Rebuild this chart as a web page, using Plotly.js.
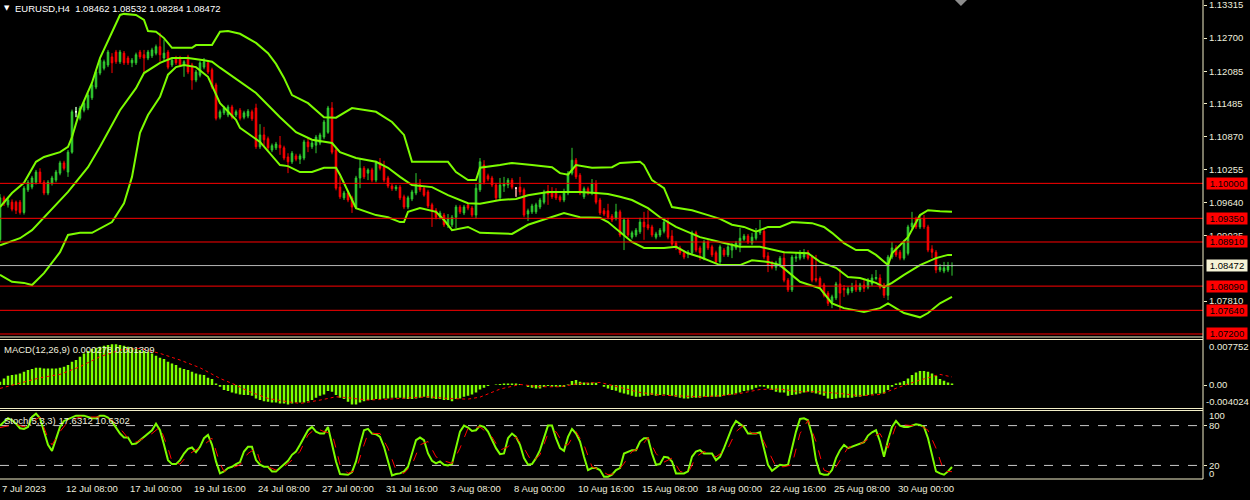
<!DOCTYPE html>
<html>
<head>
<meta charset="utf-8">
<script src="https://cdn.plot.ly/plotly-3.0.1.min.js"></script>
<style>
  html, body { margin: 0; padding: 0; background: #000; }
  #chart { width: 1250px; height: 500px; }
</style>
</head>
<body>
<div id="chart"></div>
<script>
// EURUSD H4, bar 0 = 7 Jul 2023 16:00 ... bar 238 = 1 Sep 2023 08:00
let open = [
  1.0895,1.0973,1.0960,1.0965,1.0965,1.0965,1.0946,1.0988,1.0993,1.1002,
  1.1021,1.1002,1.0982,1.1000,1.1006,1.1019,1.1038,1.1021,1.1058,1.1133,
  1.1121,1.1136,1.1140,1.1159,1.1179,1.1205,1.1214,1.1220,1.1235,1.1244,
  1.1226,1.1242,1.1233,1.1224,1.1224,1.1244,1.1239,1.1233,1.1237,1.1242,
  1.1254,1.1233,1.1244,1.1220,1.1233,1.1233,1.1220,1.1235,1.1220,1.1192,
  1.1201,1.1216,1.1224,1.1211,1.1183,1.1123,1.1131,1.1127,1.1142,1.1127,
  1.1136,1.1123,1.1125,1.1133,1.1140,1.1068,1.1090,1.1083,1.1062,1.1066,
  1.1071,1.1066,1.1049,1.1040,1.1051,1.1045,1.1047,1.1077,1.1068,1.1071,
  1.1075,1.1086,1.1095,1.1140,1.1062,1.0993,1.0973,1.0982,1.0973,1.0956,
  1.1010,1.1028,1.1019,1.1025,1.1006,1.1038,1.1030,1.1010,1.0995,1.0990,
  1.0993,1.0975,1.0956,1.0971,1.0982,1.0997,1.0991,1.0984,1.0960,1.0950,
  1.0937,1.0941,1.0923,1.0923,1.0937,1.0956,1.0945,1.0960,1.0954,1.0941,
  1.0988,1.1034,1.1014,1.1010,1.0997,1.0973,1.0995,1.0997,1.1006,1.0991,
  1.0993,1.0988,1.0943,1.0947,1.0947,1.0956,1.0965,1.0986,1.0984,1.0982,
  1.0975,1.0969,1.0982,1.1019,1.1043,1.1015,1.0975,1.0990,1.0982,1.0999,
  1.0969,1.0949,1.0949,1.0939,1.0935,1.0947,1.0904,1.0932,1.0900,1.0904,
  1.0910,1.0928,1.0923,1.0919,1.0900,1.0904,1.0911,1.0928,1.0902,1.0889,
  1.0880,1.0871,1.0869,1.0871,1.0908,1.0880,1.0861,1.0891,1.0882,1.0871,
  1.0854,1.0876,1.0867,1.0876,1.0880,1.0885,1.0896,1.0902,1.0889,1.0898,
  1.0908,1.0911,1.0865,1.0852,1.0844,1.0848,1.0861,1.0820,1.0802,1.0861,
  1.0861,1.0863,1.0872,1.0863,1.0823,1.0823,1.0811,1.0796,1.0779,1.0787,
  1.0813,1.0805,1.0796,1.0800,1.0811,1.0802,1.0811,1.0807,1.0813,1.0823,
  1.0824,1.0811,1.0792,1.0863,1.0880,1.0872,1.0861,1.0870,1.0919,1.0934,
  1.0919,1.0934,1.0919,1.0878,1.0872,1.0839,1.0837,1.0839,1.08462
];
let high = [
  1.0980,1.0977,1.0975,1.0970,1.0968,1.0969,1.0995,1.1006,1.1014,1.1025,
  1.1028,1.1006,1.1006,1.1014,1.1025,1.1042,1.1042,1.1062,1.1137,1.1142,
  1.1144,1.1153,1.1168,1.1187,1.1211,1.1233,1.1230,1.1248,1.1242,1.1248,
  1.1248,1.1246,1.1237,1.1233,1.1243,1.1248,1.1248,1.1248,1.1252,1.1258,
  1.1280,1.1267,1.1248,1.1233,1.1237,1.1237,1.1229,1.1239,1.1224,1.1211,
  1.1228,1.1233,1.1228,1.1215,1.1187,1.1137,1.1144,1.1146,1.1146,1.1137,
  1.1140,1.1135,1.1138,1.1137,1.1148,1.1110,1.1105,1.1087,1.1074,1.1077,
  1.1088,1.1070,1.1056,1.1060,1.1055,1.1055,1.1081,1.1084,1.1079,1.1090,
  1.1094,1.1118,1.1144,1.1151,1.1066,1.1012,1.0986,1.0986,1.0977,1.1014,
  1.1047,1.1032,1.1028,1.1029,1.1042,1.1047,1.1042,1.1014,1.0999,1.0997,
  1.0997,1.0979,1.0977,1.0988,1.1019,1.1008,1.0995,1.0988,1.0964,1.0954,
  1.0949,1.0945,1.0943,1.0941,1.0960,1.0960,1.0960,1.0964,1.0958,1.0999,
  1.1047,1.1043,1.1018,1.1014,1.1001,1.1010,1.1012,1.1010,1.1010,1.0993,
  1.1012,1.0992,1.0953,1.0962,1.0964,1.0973,1.0988,1.0997,1.0993,1.0991,
  1.0979,1.0990,1.1023,1.1066,1.1047,1.1019,1.0994,1.0994,1.1008,1.1006,
  1.0973,1.0954,1.0962,1.0943,1.0962,1.0951,1.0936,1.0936,1.0912,1.0917,
  1.0936,1.0947,1.0950,1.0923,1.0910,1.0917,1.0936,1.0936,1.0913,1.0893,
  1.0884,1.0875,1.0876,1.0912,1.0912,1.0884,1.0895,1.0895,1.0886,1.0875,
  1.0886,1.0880,1.0886,1.0889,1.0893,1.0917,1.0906,1.0906,1.0908,1.0917,
  1.0932,1.0915,1.0872,1.0856,1.0856,1.0865,1.0874,1.0824,1.0867,1.0872,
  1.0876,1.0878,1.0876,1.0867,1.0867,1.0827,1.0815,1.0800,1.0793,1.0817,
  1.0842,1.0811,1.0808,1.0815,1.0820,1.0815,1.0820,1.0824,1.0831,1.0839,
  1.0831,1.0815,1.0867,1.0891,1.0885,1.0876,1.0895,1.0923,1.0947,1.0938,
  1.0941,1.0941,1.0923,1.0885,1.0876,1.0850,1.0854,1.0854,1.08532
];
let low = [
  1.0890,1.0958,1.0955,1.0948,1.0943,1.0942,1.0942,1.0984,1.0989,1.0998,
  1.1000,1.0978,1.0978,1.0996,1.1002,1.1015,1.1024,1.1012,1.1055,1.1123,
  1.1117,1.1132,1.1136,1.1155,1.1175,1.1201,1.1210,1.1216,1.1205,1.1222,
  1.1222,1.1220,1.1220,1.1216,1.1220,1.1231,1.1205,1.1229,1.1233,1.1238,
  1.1226,1.1226,1.1212,1.1216,1.1220,1.1216,1.1198,1.1203,1.1174,1.1188,
  1.1197,1.1212,1.1203,1.1175,1.1117,1.1119,1.1127,1.1123,1.1119,1.1123,
  1.1117,1.1119,1.1121,1.1116,1.1064,1.1064,1.1068,1.1062,1.1058,1.1062,
  1.1053,1.1043,1.1019,1.1036,1.1041,1.1036,1.1043,1.1058,1.1064,1.1056,
  1.1071,1.1082,1.1092,1.1054,1.0987,1.0971,1.0969,1.0965,1.0945,1.0952,
  1.0991,1.1008,1.1006,1.1002,1.1002,1.1024,1.1002,1.0991,1.0986,1.0986,
  1.0969,1.0952,1.0952,1.0967,1.0978,1.0984,1.0975,1.0954,1.0919,1.0933,
  1.0933,1.0919,1.0917,1.0919,1.0917,1.0943,1.0941,1.0950,1.0937,1.0935,
  1.0984,1.0998,1.1004,1.0993,1.0969,1.0967,1.0984,1.0991,1.0989,1.0975,
  1.0978,1.0937,1.0930,1.0943,1.0943,1.0952,1.0961,1.0960,1.0971,1.0969,
  1.0965,1.0965,1.0978,1.1015,1.1008,1.0978,1.0971,1.0978,1.0978,1.0961,
  1.0941,1.0939,1.0933,1.0928,1.0931,1.0900,1.0876,1.0900,1.0896,1.0900,
  1.0906,1.0895,1.0913,1.0900,1.0896,1.0900,1.0907,1.0896,1.0883,1.0876,
  1.0867,1.0859,1.0861,1.0867,1.0872,1.0857,1.0857,1.0876,1.0863,1.0850,
  1.0850,1.0863,1.0863,1.0861,1.0876,1.0872,1.0893,1.0887,1.0885,1.0894,
  1.0904,1.0859,1.0835,1.0840,1.0838,1.0844,1.0816,1.0798,1.0798,1.0854,
  1.0857,1.0859,1.0857,1.0816,1.0816,1.0803,1.0788,1.0772,1.0768,1.0783,
  1.0764,1.0789,1.0792,1.0796,1.0798,1.0798,1.0798,1.0803,1.0809,1.0820,
  1.0803,1.0787,1.0783,1.0859,1.0863,1.0857,1.0857,1.0866,1.0915,1.0915,
  1.0915,1.0915,1.0872,1.0861,1.0833,1.0835,1.0833,1.0835,1.08284
];
let close = [
  1.0973,1.0963,1.0969,1.0952,1.0950,1.0946,1.0991,1.1002,1.1010,1.1021,
  1.1002,1.0982,1.1002,1.1010,1.1021,1.1038,1.1028,1.1058,1.1133,1.1133,
  1.1140,1.1149,1.1164,1.1183,1.1207,1.1229,1.1226,1.1244,1.1224,1.1226,
  1.1244,1.1224,1.1224,1.1229,1.1239,1.1235,1.1233,1.1244,1.1248,1.1254,
  1.1239,1.1242,1.1216,1.1229,1.1224,1.1220,1.1226,1.1207,1.1192,1.1207,
  1.1224,1.1226,1.1207,1.1179,1.1121,1.1133,1.1140,1.1142,1.1123,1.1133,
  1.1121,1.1131,1.1134,1.1120,1.1068,1.1090,1.1081,1.1066,1.1070,1.1073,
  1.1066,1.1047,1.1040,1.1056,1.1045,1.1051,1.1077,1.1068,1.1075,1.1086,
  1.1090,1.1114,1.1140,1.1058,1.0991,1.0975,1.0982,1.0969,1.0956,1.1010,
  1.1028,1.1012,1.1025,1.1006,1.1038,1.1028,1.1006,1.0995,1.0990,1.0993,
  1.0973,1.0956,1.0973,1.0984,1.0997,1.0988,1.0978,1.0958,1.0949,1.0937,
  1.0945,1.0923,1.0934,1.0937,1.0956,1.0947,1.0956,1.0954,1.0941,1.0991,
  1.1040,1.1002,1.1008,1.0997,1.0973,1.0997,1.0999,1.1006,1.0993,1.0991,
  1.0984,1.0941,1.0949,1.0958,1.0960,1.0969,1.0984,1.0980,1.0975,1.0973,
  1.0969,1.0982,1.1019,1.1043,1.1012,1.0982,1.0990,1.0982,1.0999,1.0965,
  1.0945,1.0943,1.0937,1.0932,1.0947,1.0904,1.0932,1.0904,1.0908,1.0913,
  1.0928,1.0919,1.0917,1.0904,1.0906,1.0913,1.0928,1.0900,1.0887,1.0880,
  1.0871,1.0863,1.0872,1.0908,1.0876,1.0871,1.0891,1.0880,1.0867,1.0854,
  1.0882,1.0867,1.0882,1.0885,1.0889,1.0898,1.0902,1.0891,1.0900,1.0908,
  1.0911,1.0863,1.0848,1.0844,1.0852,1.0861,1.0820,1.0802,1.0863,1.0863,
  1.0871,1.0871,1.0861,1.0820,1.0820,1.0807,1.0792,1.0777,1.0789,1.0813,
  1.0796,1.0802,1.0804,1.0807,1.0802,1.0811,1.0805,1.0820,1.0824,1.0825,
  1.0807,1.0792,1.0863,1.0880,1.0867,1.0861,1.0889,1.0919,1.0926,1.0919,
  1.0934,1.0919,1.0876,1.0872,1.0839,1.0844,1.0843,1.0846,1.08472
];

// Bollinger bands (bar index, price)
let bbUpperX = [0,3,6,9,11,15,17,18,20,23,25,28,30,31,34,36,37,39,41,43,48,49,53,55,57,60,64,67,69,71,
  73,77,81,84,88,94,98,101,103,108,112,114,117,119,120,125,128,133,138,140,142,144,148,153,155,160,161,163,166,168,
  173,177,180,183,186,189,192,195,198,203,206,208,211,214,217,219,222,223,227,230,232,235,238];
let bbUpper = [1.0956,1.0982,1.1001,1.1040,1.1049,1.1058,1.1068,1.1086,1.1136,1.1187,1.1233,1.1280,1.1313,1.1315,1.1313,
  1.1304,1.1283,1.1282,1.1270,1.1252,1.1252,1.1257,1.1257,1.1282,1.1283,1.1278,1.1261,1.1242,1.1222,1.1196,
  1.1164,1.1149,1.1123,1.1122,1.1140,1.1133,1.1114,1.1090,1.1040,1.1040,1.1040,1.1021,1.1006,1.1006,1.1029,
  1.1034,1.1038,1.1034,1.1030,1.1019,1.1016,1.1034,1.1029,1.1030,1.1038,1.1040,1.1034,1.1006,1.0991,1.0956,
  1.0950,1.0941,1.0934,1.0923,1.0919,1.0910,1.0919,1.0919,1.0928,1.0926,1.0919,1.0908,1.0889,1.0876,1.0876,
  1.0867,1.0848,1.0870,1.0900,1.0941,1.0950,1.0948,1.0947];
let bbMidX = [0,5,8,12,17,22,25,30,34,36,40,43,47,51,53,55,60,64,70,74,78,83,85,89,94,97,100,103,108,112,
  117,120,125,129,132,137,142,145,149,152,155,158,162,165,169,172,175,180,185,190,196,202,205,209,212,215,219,221,223,226,
  230,234,237,238];
let bbMid = [1.0885,1.0898,1.0913,1.0945,1.0984,1.1030,1.1068,1.1136,1.1177,1.1205,1.1224,1.1233,1.1233,1.1229,1.1226,
  1.1215,1.1189,1.1168,1.1123,1.1095,1.1081,1.1075,1.1058,1.1047,1.1040,1.1029,1.1012,1.0997,1.0993,1.0978,
  1.0963,1.0962,1.0969,1.0971,1.0978,1.0984,1.0984,1.0984,1.0982,1.0980,1.0975,1.0969,1.0954,1.0937,1.0919,
  1.0910,1.0900,1.0891,1.0882,1.0882,1.0872,1.0870,1.0854,1.0843,1.0826,1.0824,1.0815,1.0807,1.0815,1.0830,
  1.0848,1.0861,1.0867,1.0867];
let bbLowerX = [0,3,6,8,11,15,17,20,23,28,31,33,35,37,40,42,44,46,49,52,55,59,60,65,70,72,75,78,81,84,
  85,89,94,97,100,101,102,105,109,111,113,117,120,128,132,138,141,145,150,152,155,158,161,166,169,172,175,180,185,188,
  192,195,200,205,208,211,216,220,222,224,226,230,232,235,238];
let bbLower = [1.0830,1.0817,1.0815,1.0811,1.0833,1.0872,1.0904,1.0908,1.0908,1.0928,1.0963,1.1012,1.1094,1.1127,1.1161,
  1.1202,1.1216,1.1220,1.1216,1.1198,1.1149,1.1118,1.1103,1.1077,1.1034,1.1032,1.1021,1.1021,1.1029,1.1029,
  1.1016,1.0954,1.0941,1.0937,1.0928,1.0928,1.0947,1.0954,1.0947,1.0932,1.0913,1.0919,1.0908,1.0906,1.0923,
  1.0937,1.0945,1.0937,1.0936,1.0928,1.0910,1.0891,1.0880,1.0880,1.0882,1.0870,1.0863,1.0848,1.0848,1.0857,
  1.0854,1.0848,1.0817,1.0805,1.0777,1.0768,1.0761,1.0768,1.0777,1.0768,1.0759,1.0751,1.0759,1.0777,1.0789];

// MACD(12,26,9): main line per bar (histogram) and signal read at sample bars
let macdMain = [
  0.00057,0.00115,0.00161,0.00172,0.00184,0.00201,0.00230,0.00258,0.00276,0.00298,
  0.00298,0.00287,0.00287,0.00287,0.00287,0.00298,0.00316,0.00344,0.00402,0.00431,
  0.00488,0.00545,0.00585,0.00620,0.00643,0.00660,0.00677,0.00689,0.00700,0.00700,
  0.00689,0.00677,0.00660,0.00643,0.00620,0.00603,0.00585,0.00574,0.00545,0.00505,
  0.00471,0.00448,0.00402,0.00373,0.00344,0.00298,0.00276,0.00258,0.00230,0.00201,
  0.00184,0.00172,0.00126,0.00103,0.00029,-0.00029,-0.00086,-0.00103,-0.00126,-0.00144,
  -0.00161,-0.00172,-0.00172,-0.00184,-0.00230,-0.00258,-0.00276,-0.00287,-0.00298,-0.00298,
  -0.00316,-0.00316,-0.00333,-0.00316,-0.00298,-0.00298,-0.00298,-0.00276,-0.00258,-0.00218,
  -0.00184,-0.00161,-0.00103,-0.00115,-0.00172,-0.00218,-0.00241,-0.00287,-0.00333,-0.00333,
  -0.00298,-0.00276,-0.00258,-0.00258,-0.00241,-0.00241,-0.00230,-0.00230,-0.00218,-0.00218,
  -0.00218,-0.00230,-0.00241,-0.00241,-0.00230,-0.00218,-0.00201,-0.00218,-0.00230,-0.00241,
  -0.00241,-0.00258,-0.00258,-0.00276,-0.00241,-0.00230,-0.00201,-0.00184,-0.00161,-0.00126,
  -0.00075,-0.00046,-0.00017,0,0.00011,0.00017,0.00029,0.00029,0.00029,0.00029,
  0.00017,0,-0.00034,-0.00046,-0.00057,-0.00057,-0.00034,-0.00017,-0.00029,-0.00029,
  -0.00029,-0.00034,0.00011,0.00069,0.00086,0.00057,0.00046,0.00040,0.00046,0.00040,
  0,-0.00029,-0.00057,-0.00086,-0.00098,-0.00126,-0.00144,-0.00161,-0.00184,-0.00201,
  -0.00201,-0.00184,-0.00184,-0.00172,-0.00184,-0.00172,-0.00161,-0.00172,-0.00184,-0.00201,
  -0.00218,-0.00230,-0.00230,-0.00218,-0.00218,-0.00218,-0.00201,-0.00201,-0.00201,-0.00201,
  -0.00201,-0.00184,-0.00172,-0.00161,-0.00144,-0.00126,-0.00103,-0.00092,-0.00075,-0.00046,
  -0.00023,-0.00029,-0.00057,-0.00086,-0.00115,-0.00126,-0.00126,-0.00184,-0.00172,-0.00161,
  -0.00144,-0.00126,-0.00115,-0.00126,-0.00144,-0.00161,-0.00184,-0.00230,-0.00241,-0.00230,
  -0.00218,-0.00218,-0.00218,-0.00218,-0.00201,-0.00201,-0.00184,-0.00172,-0.00161,-0.00144,
  -0.00144,-0.00144,-0.00086,-0.00029,0.00029,0.00046,0.00069,0.00115,0.00172,0.00218,
  0.00241,0.00241,0.00230,0.00201,0.00161,0.00103,0.00075,0.00046,0.000278
];
let macdSignalX = [0,5,10,15,20,25,30,35,40,45,50,55,59,62,67,72,75,80,84,87,92,97,102,107,112,117,
  120,125,130,135,140,145,150,155,160,165,170,175,180,185,190,195,200,205,210,215,220,225,230,235,238];
let macdSignal = [-0.00057,0.00029,0.00126,0.00184,0.00316,0.00488,0.00603,0.00631,0.00545,0.00431,0.00298,0.00115,0,
  -0.00103,-0.00230,-0.00287,-0.00316,-0.00258,-0.00201,-0.00218,-0.00258,-0.00241,-0.00218,-0.00201,-0.00230,-0.00241,
  -0.00207,-0.00069,0.00011,-0.00029,-0.00029,0.00029,0.00046,-0.00046,-0.00126,-0.00172,-0.00184,-0.00201,-0.00184,
  -0.00144,-0.00075,-0.00069,-0.00115,-0.00115,-0.00144,-0.00184,-0.00161,-0.00029,0.00086,0.00184,0.001399];
let macdMax = 0.007752, macdMin = -0.004024;

// Stochastic(5,3,3): main per bar, signal at sample bars
let stochMain = [
  80,86,91,88,83,76,75,78,93,98, 91,71,51,42,61,78,87,90,93,95,
  95,95,93,91,91,95,95,92,86,77, 68,62,62,52,53,58,63,67,73,83,
  73,51,28,22,22,28,38,45,47,40, 48,61,66,51,26,8,11,16,18,22,
  25,41,48,48,28,21,18,18,11,11, 16,22,27,36,41,51,63,73,78,71,
  68,68,78,51,26,7,6,6,10,26, 51,73,75,68,67,63,48,26,5,7,
  8,11,18,38,58,62,58,38,27,23, 26,21,20,22,46,71,80,77,72,73,
  80,78,71,58,46,37,38,61,68,63, 51,31,21,22,31,43,61,80,80,61,
  46,42,63,75,68,56,33,13,16,16, 13,3,3,6,13,16,38,40,43,43,
  56,61,61,38,21,22,33,32,26,8, 8,8,11,33,41,43,38,38,38,28,
  33,46,61,77,87,83,78,68,68,68, 70,43,21,12,16,21,20,21,46,71,
  90,91,88,66,28,8,6,6,13,31, 43,51,46,48,51,52,55,65,70,73,
  56,33,58,78,87,80,78,78,80,82, 81,78,61,36,11,8,6,11,17.6312
];
let stochSignalX = [0,4,6,8,10,12,13,15,17,20,25,28,30,32,34,36,38,40,42,43,45,47,49,51,53,55,56,58,60,62,
  64,65,67,69,71,73,75,77,79,81,83,84,85,87,89,91,92,95,97,99,101,103,105,107,109,111,113,115,117,120,
  123,125,127,129,131,133,135,137,139,141,142,144,146,148,150,152,154,156,158,160,162,164,166,168,170,172,174,176,179,182,
  184,186,188,190,192,194,196,198,200,202,204,206,208,210,212,215,218,220,222,224,226,228,230,232,234,236,238];
let stochSignal = [77,82,78,86,93,61,51,71,86,93,93,88,76,61,55,61,68,78,46,26,22,36,43,51,61,23,11,16,21,38,
  46,26,18,13,18,28,41,66,76,71,68,46,21,8,13,51,68,68,46,13,8,21,51,56,33,27,23,46,76,78,
  63,43,48,63,46,25,36,68,71,51,51,71,51,18,13,6,8,23,41,46,62,38,25,31,11,8,33,41,33,46,
  71,81,68,68,43,18,18,21,68,88,56,13,8,28,47,52,63,68,46,80,81,80,81,73,46,11,10.6302];

let levels = [1.10000, 1.09350, 1.08910, 1.08090, 1.07640, 1.07200];
let priceTicks = [1.13315, 1.12700, 1.12085, 1.11485, 1.10870, 1.10255, 1.09640, 1.09025, 1.07810];
let dateLabels = ['7 Jul 2023', '12 Jul 08:00', '17 Jul 00:00', '19 Jul 16:00', '24 Jul 08:00', '27 Jul 00:00',
  '31 Jul 16:00', '3 Aug 08:00', '8 Aug 00:00', '10 Aug 16:00', '15 Aug 08:00', '18 Aug 00:00',
  '22 Aug 16:00', '25 Aug 08:00', '30 Aug 00:00'];
let dateIdx = [0, 16, 32, 48, 64, 80, 96, 112, 128, 144, 160, 176, 192, 208, 224];

const CREAM = "#f3efc8";
const TXT = "#eeeede";
const BAND = "#7cfc00";
const FONT = "Liberation Sans, Arial, sans-serif";
const PH = 479;                       // plot height in px (500 - bottom margin)
const py = Y => (PH - Y) / PH;        // pixel row -> paper fraction

const n = close.length;
const idx = close.map((_, i) => i);
const doji = idx.filter(i => open[i] === close[i]);
const last = n - 1;

let candles = {
  type: "candlestick", x: idx, open: open, high: high, low: low, close: close,
  increasing: {line: {color: "#32cd32", width: 1}, fillcolor: "#32cd32"},
  decreasing: {line: {color: "#ff0000", width: 1}, fillcolor: "#ff0000"},
  whiskerwidth: 0, hoverinfo: "skip", xaxis: "x", yaxis: "y",
};
let dojiBars = {
  type: "candlestick", x: doji,
  open: doji.map(i => open[i]), high: doji.map(i => high[i]),
  low: doji.map(i => low[i]), close: doji.map(i => close[i]),
  increasing: {line: {color: "#ffffff", width: 1}, fillcolor: "#ffffff"},
  decreasing: {line: {color: "#ffffff", width: 1}, fillcolor: "#ffffff"},
  whiskerwidth: 0, hoverinfo: "skip", xaxis: "x", yaxis: "y",
};
function band(xs, ys) {
  return {type: "scatter", mode: "lines", x: xs, y: ys, line: {color: BAND, width: 2},
    hoverinfo: "skip", xaxis: "x", yaxis: "y"};
}
let macdBars = {
  type: "bar", x: idx, y: macdMain, width: 0.62, marker: {color: "#7fff00", line: {width: 0}},
  hoverinfo: "skip", xaxis: "x", yaxis: "y2",
};
let macdSig = {
  type: "scatter", mode: "lines", x: macdSignalX, y: macdSignal,
  line: {color: "#ff0000", width: 1, dash: "dot"}, hoverinfo: "skip", xaxis: "x", yaxis: "y2",
};
let stochK = {
  type: "scatter", mode: "lines", x: idx, y: stochMain, line: {color: BAND, width: 2},
  hoverinfo: "skip", xaxis: "x", yaxis: "y3",
};
let stochD = {
  type: "scatter", mode: "lines", x: stochSignalX, y: stochSignal,
  line: {color: "#ff0000", width: 1, dash: "dash"}, hoverinfo: "skip", xaxis: "x", yaxis: "y3",
};

let data = [candles, dojiBars, band(bbUpperX, bbUpper), band(bbMidX, bbMid), band(bbLowerX, bbLower),
  macdBars, macdSig, stochK, stochD];

function hline(yref, y, color, dash) {
  return {type: "line", xref: "paper", x0: 0, x1: 1, yref: yref, y0: y, y1: y,
    line: {color: color, width: 1, dash: dash || "solid"}};
}
function sep(Y) {
  return {type: "line", xref: "paper", x0: 0, x1: 1, yref: "paper", y0: py(Y), y1: py(Y),
    line: {color: CREAM, width: 1}};
}

let shapes = [
  Object.assign(hline("y3", 80, "#c8c8c8", "dash"), {layer: "below"}),
  Object.assign(hline("y3", 20, "#c8c8c8", "dash"), {layer: "below"}),
  hline("y", close[last], "#b4b4b4"),
];
levels.forEach(lv => shapes.push(hline("y", lv, "#ff0000")));
[337, 339.5, 408.5, 410.5, 479].forEach(Y => shapes.push(sep(Y)));
shapes.push({type: "line", xref: "paper", yref: "paper", x0: 1, x1: 1, y0: 0, y1: 1,
  line: {color: CREAM, width: 1}});
shapes.push({type: "path", xref: "paper", yref: "paper",
  path: "M 0.7938 1 L 0.8038 1 L 0.7988 " + py(6).toFixed(4) + " Z",
  fillcolor: "#8c8c8c", line: {width: 0}});

const NB = "\u00a0";
let annotations = [
  {xref: "paper", yref: "paper", x: 0, y: 1, xanchor: "left", yanchor: "top", xshift: 2, yshift: -2,
    text: "\u25BC", font: {family: "DejaVu Sans", size: 7, color: "#ffffff"}, showarrow: false},
  {xref: "paper", yref: "paper", x: 0, y: 1, xanchor: "left", yanchor: "top", xshift: 13, yshift: -1,
    text: "EURUSD,H4" + NB + NB + [open[last], high[last], low[last], close[last]].map(v => v.toFixed(5)).join(" "),
    font: {color: "#ffffff", size: 9.5}, showarrow: false},
  {xref: "paper", yref: "paper", x: 0, y: py(341.5), xanchor: "left", yanchor: "top", xshift: 2,
    text: "MACD(12,26,9) " + macdMain[last].toFixed(6) + " " + macdSignal[macdSignal.length - 1].toFixed(6),
    font: {color: TXT, size: 9.5}, showarrow: false},
  {xref: "paper", yref: "paper", x: 0, y: py(413), xanchor: "left", yanchor: "top", xshift: 2,
    text: "Stoch(5,3,3) " + stochMain[last].toFixed(4) + " " + stochSignal[stochSignal.length - 1].toFixed(4),
    font: {color: TXT, size: 9.5}, showarrow: false},
];
function sideLabel(yref, y, text, bg, dy, dx) {
  let a = {xref: "paper", x: 1, xanchor: "left", yref: yref, y: y, yshift: dy || 0, text: text,
    showarrow: false, font: {color: bg ? "#000000" : TXT, size: 9.5}};
  if (bg) { Object.assign(a, {xshift: 3, bgcolor: bg, width: 39, height: 10, borderpad: 0.5}); }
  else { a.xshift = dx === undefined ? 4 : dx; }
  return a;
}
levels.forEach(lv => annotations.push(sideLabel("y", lv, lv.toFixed(5), "#ff0000")));
annotations.push(sideLabel("y", close[last], close[last].toFixed(5), "#f6f3d6"));
annotations.push(sideLabel("y2", macdMax, macdMax.toFixed(6), null, -6));
annotations.push(sideLabel("y2", macdMin, macdMin.toFixed(6), null, 7, 1));
annotations.push(sideLabel("y3", 100, "100", null, -3));
annotations.push(sideLabel("y3", 0, "0", null, 5.5));
dateLabels.forEach((t, k) => annotations.push({
  xref: "x", x: dateIdx[k], xanchor: "left", yref: "paper", y: 0, yanchor: "top", yshift: -2,
  text: t, showarrow: false, font: {color: TXT, size: 9.5}}));

let axisCommon = {
  side: "right", anchor: "x", showgrid: false, zeroline: false, showline: false,
  ticks: "outside", ticklen: 3, tickcolor: CREAM, tickfont: {color: TXT, size: 9.5, family: FONT},
  ticklabeloverflow: "allow", fixedrange: true,
};

let layout = {
  width: 1250, height: 500,
  paper_bgcolor: "#000000", plot_bgcolor: "#000000",
  margin: {l: 0, r: 47, t: 0, b: 21},
  showlegend: false,
  boxgap: 0.45,
  font: {family: FONT, size: 9.5, color: TXT},
  xaxis: {range: [0, 300.75], showgrid: false, zeroline: false, showline: false, showticklabels: false,
    ticks: "", rangeslider: {visible: false}, fixedrange: true, anchor: "y3"},
  yaxis: Object.assign({}, axisCommon, {domain: [py(337), 1], range: [1.07144, 1.13408],
    tickvals: priceTicks, tickformat: ".5f"}),
  yaxis2: Object.assign({}, axisCommon, {domain: [py(408.5), py(340)], range: [macdMin, macdMax],
    tickvals: [0], ticktext: ["0.00"]}),
  yaxis3: Object.assign({}, axisCommon, {domain: [0, py(411)], range: [-0.45, 102],
    tickvals: [20, 80]}),
  shapes: shapes,
  annotations: annotations,
};

Plotly.newPlot("chart", data, layout, {displayModeBar: false, staticPlot: true});
</script>
</body>
</html>
